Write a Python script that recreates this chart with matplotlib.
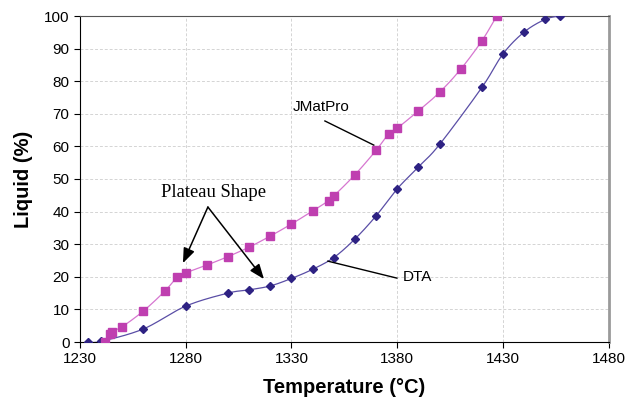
import matplotlib.pyplot as plt
import numpy as np

plt.rcParams["font.family"] = ["Liberation Sans", "DejaVu Sans"]

# JMatPro prediction (squares)
jmat_temp = [1242, 1244, 1245, 1250, 1260, 1270, 1276, 1280, 1290, 1300, 1310, 1320, 1330,
             1340, 1347.5, 1350, 1360, 1370, 1376, 1380, 1390, 1400, 1410, 1420, 1427]
jmat_liquid = [0, 2.5, 3.2, 4.7, 9.5, 15.5, 19.9, 21.2, 23.6, 26.2, 29.1, 32.5, 36.2,
               40.2, 43.3, 44.8, 51.3, 58.8, 63.9, 65.6, 70.9, 76.6, 83.7, 92.4, 100]

# DTA measurement (diamonds)
dta_temp = [1234, 1240, 1260, 1280, 1300, 1310, 1320, 1330, 1340, 1350, 1360, 1370, 1380,
            1390, 1400, 1420, 1430, 1440, 1450, 1457]
dta_liquid = [0, 0.2, 4, 11, 15, 16, 17.2, 19.5, 22.3, 25.9, 31.6, 38.7, 47,
              53.7, 60.6, 78.1, 88.4, 95.1, 99, 100]

x_ticks = [1230, 1280, 1330, 1380, 1430, 1480]
y_ticks = [0, 10, 20, 30, 40, 50, 60, 70, 80, 90, 100]

JMAT_MARK = "#bf3fb0"
JMAT_LINE = "#d676d0"
DTA_MARK = "#2e2283"
DTA_LINE = "#5a4ea6"


def smooth(x, y, n=20):
    """Excel-style smoothed line (uniform Catmull-Rom through the points)."""
    p = np.column_stack([x, y]).astype(float)
    p = np.vstack([p[0], p, p[-1]])
    out = []
    t = np.linspace(0, 1, n, endpoint=False)[:, None]
    for i in range(1, len(p) - 2):
        p0, p1, p2, p3 = p[i - 1], p[i], p[i + 1], p[i + 2]
        seg = 0.5 * ((2 * p1) + (-p0 + p2) * t + (2 * p0 - 5 * p1 + 4 * p2 - p3) * t ** 2
                     + (-p0 + 3 * p1 - 3 * p2 + p3) * t ** 3)
        out.append(seg)
    out.append(p[-2][None, :])
    out = np.vstack(out)
    return out[:, 0], out[:, 1]


fig = plt.figure(figsize=(6.29, 4.0), dpi=100)
ax = fig.add_axes([0.127, 0.145, 0.841, 0.815])

sx, sy = smooth(dta_temp, dta_liquid)
ax.plot(sx, sy, color=DTA_LINE, linewidth=0.9, zorder=3)
ax.plot(dta_temp, dta_liquid, linestyle="none", marker="D", markersize=4,
        color=DTA_MARK, zorder=4)

jx, jy = smooth(jmat_temp, jmat_liquid)
ax.plot(jx, jy, color=JMAT_LINE, linewidth=0.9, zorder=3)
ax.plot(jmat_temp, jmat_liquid, linestyle="none", marker="s", markersize=5.5,
        color=JMAT_MARK, zorder=4)

ax.set_xlim(1230, 1480)
ax.set_ylim(0, 100)
ax.set_xticks(x_ticks)
ax.set_yticks(y_ticks)
ax.tick_params(labelsize=11, length=4, width=0.8, direction="out")
ax.grid(True, color="#d4d4d4", linestyle=(0, (3, 2)), linewidth=0.7)
ax.set_axisbelow(True)

ax.spines["left"].set_color("black")
ax.spines["bottom"].set_color("black")
ax.spines["top"].set_color("#555555")
ax.spines["right"].set_color("#9a9a9a")
ax.spines["right"].set_linewidth(2)

ax.set_xlabel("Temperature (°C)", fontsize=14.5, fontweight="bold", labelpad=8)
ax.set_ylabel("Liquid (%)", fontsize=14.5, fontweight="bold", labelpad=8)

# annotations
ax.text(1344, 72, "JMatPro", fontsize=11, ha="center", va="center")
ax.plot([1345.8, 1368.9], [67.8, 60.4], color="black", linewidth=1, zorder=5)
ax.text(1389.5, 19.9, "DTA", fontsize=11, ha="center", va="center")
ax.plot([1347.2, 1379.8], [24.8, 19.6], color="black", linewidth=1, zorder=5)

ax.text(1293, 46, "Plateau Shape", fontsize=13.4, ha="center", va="center",
        family=["Liberation Serif", "DejaVu Serif"])
for tip in [(1278.7, 24.2), (1317, 19.3)]:
    ax.annotate("", xy=tip, xytext=(1290.5, 41.4),
                arrowprops=dict(arrowstyle="-|>,head_length=0.9,head_width=0.35",
                                color="black", linewidth=1.1, shrinkA=0, shrinkB=0),
                zorder=5)

fig.savefig("out.png", dpi=100)
